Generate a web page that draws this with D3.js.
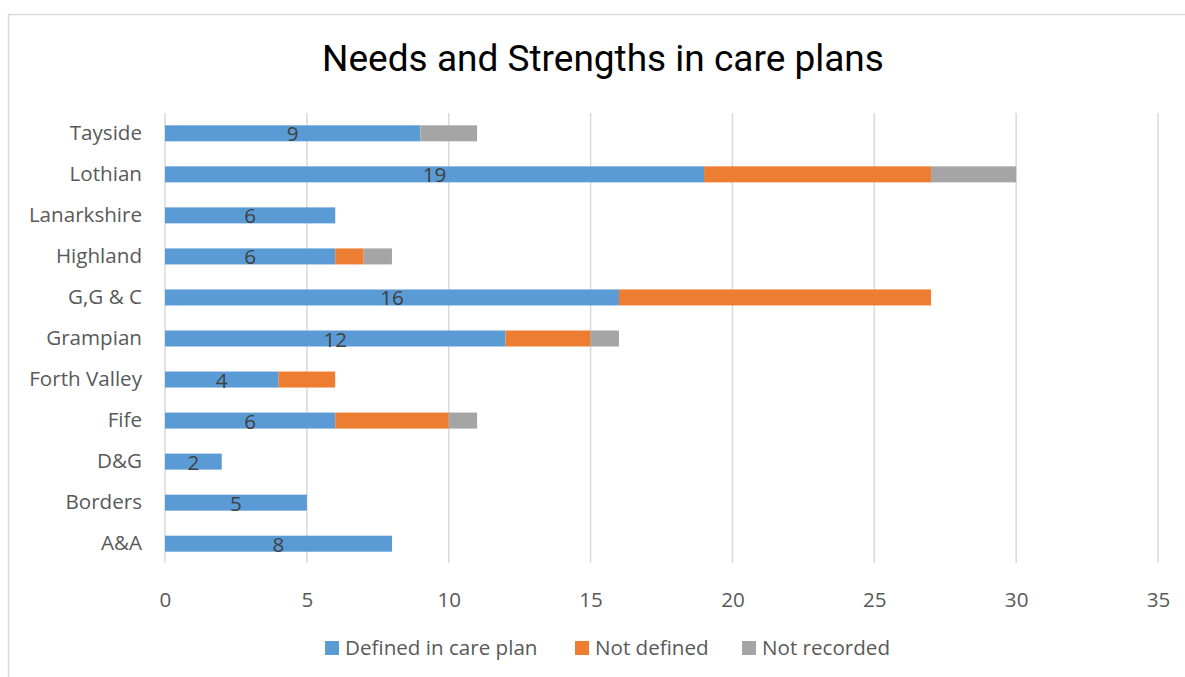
<!DOCTYPE html>
<html><head><meta charset="utf-8">
<script src="https://cdn.jsdelivr.net/npm/d3@7"></script>
<style>body{margin:0;background:#fff}svg{display:block}</style>
</head><body>
<svg id="c" width="1185" height="677"></svg>
<script>
const categories = ["Tayside","Lothian","Lanarkshire","Highland","G,G & C","Grampian","Forth Valley","Fife","D&G","Borders","A&A"];
const definedInCarePlan = [9,19,6,6,16,12,4,6,2,5,8];
const notDefined = [0,8,0,1,11,3,2,4,0,0,0];
const notRecorded = [2,3,0,1,0,1,0,1,0,0,0];
const seriesNames = ["Defined in care plan","Not defined","Not recorded"];
const colors = ["#5B9BD5","#ED7D31","#A5A5A5"];
const xTicks = [0,5,10,15,20,25,30,35];

const svg = d3.select("#c");
svg.append("rect").attr("x",8.5).attr("y",14.5).attr("width",1200).attr("height",700)
  .attr("fill","none").attr("stroke","#d9d9d9").attr("stroke-width",1.5);

svg.append("text").attr("x",603).attr("y",71).attr("text-anchor","middle")
  .attr("font-family","Roboto").attr("font-size",37).attr("fill","#000")
  .text("Needs and Strengths in care plans");

const x = d3.scaleLinear().domain([0,35]).range([165,1158]);
const y = d3.scaleBand().domain(categories).range([113,564]).paddingInner(0.61).paddingOuter(0.3);

svg.append("g").selectAll("line").data(xTicks).join("line")
  .attr("x1",d=>x(d)).attr("x2",d=>x(d)).attr("y1",113).attr("y2",563)
  .attr("stroke","#d9d9d9").attr("stroke-width",1.5);

const rows = categories.map((c,i)=>({cat:c, v:[definedInCarePlan[i],notDefined[i],notRecorded[i]]}));
rows.forEach(r=>{
  let acc=0;
  r.v.forEach((v,j)=>{
    if(v>0){
      svg.append("rect").attr("x",x(acc)).attr("y",y(r.cat)).attr("width",x(acc+v)-x(acc)).attr("height",y.bandwidth())
        .attr("fill",colors[j]);
    }
    acc+=v;
  });
  svg.append("text").attr("x",x(r.v[0]/2)).attr("y",y(r.cat)+y.bandwidth()/2+8)
    .attr("text-anchor","middle").attr("font-family","Open Sans").attr("font-size",20.6).attr("fill","#404040")
    .text(r.v[0]);
});

const ya = svg.append("g").attr("transform","translate(165,0)").call(d3.axisLeft(y).tickSize(0).tickPadding(23));
ya.select(".domain").remove();
ya.selectAll("text").attr("font-family","Open Sans").attr("font-size",20.6).attr("fill","#595959");

const xa = svg.append("g").attr("transform","translate(0,572)").call(d3.axisBottom(x).tickValues(xTicks).tickSize(0).tickPadding(20));
xa.select(".domain").remove();
xa.selectAll("text").attr("font-family","Open Sans").attr("font-size",20.6).attr("fill","#595959");

const legX = [325, 575, 742];
const lg = svg.append("g");
seriesNames.forEach((n,i)=>{
  lg.append("rect").attr("x",legX[i]).attr("y",641).attr("width",14).attr("height",14).attr("fill",colors[i]);
  lg.append("text").attr("x",legX[i]+20).attr("y",655).attr("font-family","Open Sans").attr("font-size",20.6)
    .attr("fill","#595959").text(n);
});
</script>
</body></html>
